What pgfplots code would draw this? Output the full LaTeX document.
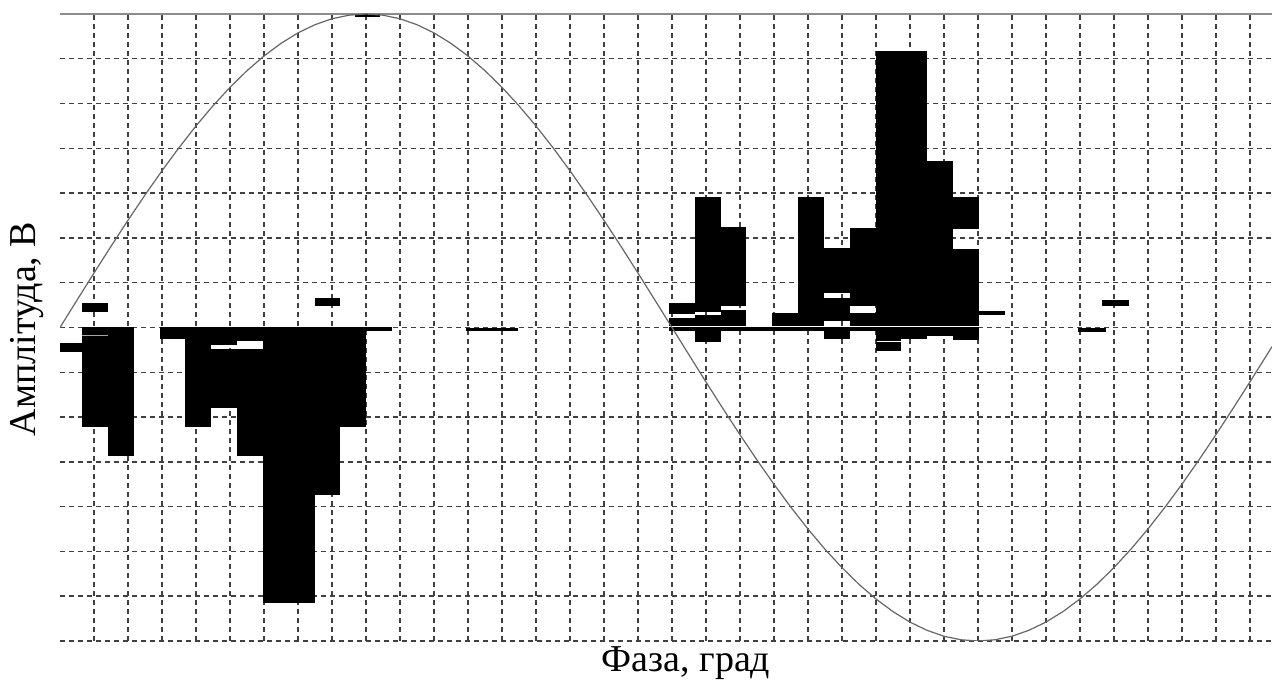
\documentclass[border=0pt]{standalone}
\usepackage{fontspec}
\setmainfont{Liberation Serif}
\usepackage{pgfplots}
\pgfplotsset{compat=1.18}
\usetikzlibrary{calc}
\tikzset{bk/.style={fill=black, draw=none}}

\begin{document}
\begin{tikzpicture}
\begin{axis}[
  width=606pt, height=313.5pt, scale only axis,
  xmin=0, xmax=356.5, ymin=-7, ymax=7,
  xtick={10,20,...,350}, ytick={-7,-6,...,7},
  xticklabels={}, yticklabels={},
  major tick length=0pt,
  grid=major,
  major grid style={black!75, line width=0.7pt, dash pattern=on 2.5pt off 2pt},
  axis line style={draw=none},
  xlabel={Фаза, град}, ylabel={Амплітуда, В},
  label style={font=\fontsize{19}{22}\selectfont},
  xlabel style={at={(axis description cs:0.5165,-0.0494)}, anchor=base},
  ylabel style={at={(axis description cs:-0.0205,0.4976)}, anchor=base},
]
\draw[black!45, line width=0.6pt] (rel axis cs:0,1) -- (rel axis cs:1,1);

% negative half-period group
\addplot[bk] coordinates {(0,-0.54) (6.5,-0.54) (6.5,-0.34) (0,-0.34)} -- cycle;
\addplot[bk] coordinates {(6.5,-2.23) (14.1,-2.23) (14.1,0) (6.5,0)} -- cycle;
\addplot[fill=black!35, draw=none] coordinates {(6.5,-0.2) (14.1,-0.2) (14.1,-0.17) (6.5,-0.17)} -- cycle;
\addplot[bk] coordinates {(14.1,-2.87) (21.7,-2.87) (21.7,0) (14.1,0)} -- cycle;
\addplot[bk] coordinates {(29.3,-0.25) (36.9,-0.25) (36.9,0) (29.3,0)} -- cycle;
\addplot[bk] coordinates {(36.9,-2.23) (44.5,-2.23) (44.5,0) (36.9,0)} -- cycle;
\addplot[bk] coordinates {(44.5,-0.38) (52.1,-0.38) (52.1,0) (44.5,0)} -- cycle;
\addplot[bk] coordinates {(44.5,-1.79) (52.1,-1.79) (52.1,-0.475) (44.5,-0.475)} -- cycle;
\addplot[bk] coordinates {(52.1,-0.306) (59.7,-0.306) (59.7,0) (52.1,0)} -- cycle;
\addplot[bk] coordinates {(52.1,-2.87) (59.7,-2.87) (59.7,-0.475) (52.1,-0.475)} -- cycle;
\addplot[bk] coordinates {(59.7,-6.16) (74.9,-6.16) (74.9,0) (59.7,0)} -- cycle;
\addplot[bk] coordinates {(74.9,-3.73) (82.5,-3.73) (82.5,0) (74.9,0)} -- cycle;
\addplot[bk] coordinates {(82.5,-2.23) (90.1,-2.23) (90.1,0) (82.5,0)} -- cycle;
\addplot[bk] coordinates {(90.1,-0.07) (97.7,-0.07) (97.7,0) (90.1,0)} -- cycle;
\addplot[bk] coordinates {(6.5,0.34) (14.1,0.34) (14.1,0.55) (6.5,0.55)} -- cycle;
\addplot[bk] coordinates {(74.9,0.49) (82.5,0.49) (82.5,0.66) (74.9,0.66)} -- cycle;
\addplot[bk] coordinates {(119.4,-0.08) (134.8,-0.08) (134.8,-0.01) (119.4,-0.01)} -- cycle;
\addplot[bk] coordinates {(86.8,6.94) (94,6.94) (94,7) (86.8,7)} -- cycle;

% positive half-period group
\addplot[bk] coordinates {(179.1,0.29) (186.7,0.29) (186.7,0.54) (179.1,0.54)} -- cycle;
\addplot[bk] coordinates {(179.1,0.04) (186.7,0.04) (186.7,0.22) (179.1,0.22)} -- cycle;
\addplot[bk] coordinates {(186.7,0.34) (194.3,0.34) (194.3,2.92) (186.7,2.92)} -- cycle;
\addplot[bk] coordinates {(186.7,0.04) (194.3,0.04) (194.3,0.27) (186.7,0.27)} -- cycle;
\addplot[bk] coordinates {(186.7,-0.33) (194.3,-0.33) (194.3,0) (186.7,0)} -- cycle;
\addplot[bk] coordinates {(194.3,0.49) (201.9,0.49) (201.9,2.24) (194.3,2.24)} -- cycle;
\addplot[bk] coordinates {(194.3,0.04) (201.9,0.04) (201.9,0.38) (194.3,0.38)} -- cycle;
\addplot[bk] coordinates {(209.5,0.04) (217.1,0.04) (217.1,0.33) (209.5,0.33)} -- cycle;
\addplot[bk] coordinates {(217.1,0.04) (224.7,0.04) (224.7,2.92) (217.1,2.92)} -- cycle;
\addplot[bk] coordinates {(224.7,0.77) (232.3,0.77) (232.3,1.78) (224.7,1.78)} -- cycle;
\addplot[bk] coordinates {(224.7,0.14) (232.3,0.14) (232.3,0.65) (224.7,0.65)} -- cycle;
\addplot[bk] coordinates {(224.7,-0.25) (232.3,-0.25) (232.3,0) (224.7,0)} -- cycle;
\addplot[bk] coordinates {(232.3,0.48) (239.9,0.48) (239.9,2.23) (232.3,2.23)} -- cycle;
\addplot[bk] coordinates {(232.3,0.04) (239.9,0.04) (239.9,0.33) (232.3,0.33)} -- cycle;
\addplot[bk] coordinates {(239.9,0.04) (255.1,0.04) (255.1,6.17) (239.9,6.17)} -- cycle;
\addplot[bk] coordinates {(239.9,-0.30) (247.5,-0.30) (247.5,0) (239.9,0)} -- cycle;
\addplot[bk] coordinates {(239.9,-0.53) (247.5,-0.53) (247.5,-0.33) (239.9,-0.33)} -- cycle;
\addplot[bk] coordinates {(247.5,-0.25) (255.1,-0.25) (255.1,0) (247.5,0)} -- cycle;
\addplot[bk] coordinates {(255.1,0.04) (262.7,0.04) (262.7,3.71) (255.1,3.71)} -- cycle;
\addplot[bk] coordinates {(255.1,-0.18) (262.7,-0.18) (262.7,0) (255.1,0)} -- cycle;
\addplot[bk] coordinates {(262.7,2.19) (270.3,2.19) (270.3,2.92) (262.7,2.92)} -- cycle;
\addplot[bk] coordinates {(262.7,0.04) (270.3,0.04) (270.3,1.76) (262.7,1.76)} -- cycle;
\addplot[bk] coordinates {(262.7,-0.27) (270.3,-0.27) (270.3,0) (262.7,0)} -- cycle;
\addplot[bk] coordinates {(270.3,0.27) (277.9,0.27) (277.9,0.36) (270.3,0.36)} -- cycle;
\addplot[bk] coordinates {(179.1,-0.07) (270.3,-0.07) (270.3,0) (179.1,0)} -- cycle;
\addplot[bk] coordinates {(306.4,0.48) (314.3,0.48) (314.3,0.62) (306.4,0.62)} -- cycle;
\addplot[bk] coordinates {(299.4,-0.09) (307.6,-0.09) (307.6,-0.02) (299.4,-0.02)} -- cycle;

% supply voltage
\addplot[black!60, line width=0.6pt] coordinates {
  (0,0) (5,0.610) (10,1.216) (15,1.812) (20,2.394) (25,2.958) (30,3.5)
  (35,4.015) (40,4.5) (45,4.95) (50,5.362) (55,5.734) (60,6.062) (65,6.344)
  (70,6.578) (75,6.761) (80,6.894) (85,6.973) (90,7) (95,6.973) (100,6.894)
  (105,6.761) (110,6.578) (115,6.344) (120,6.062) (125,5.734) (130,5.362)
  (135,4.95) (140,4.5) (145,4.015) (150,3.5) (155,2.958) (160,2.394)
  (165,1.812) (170,1.216) (175,0.610) (180,0) (185,-0.610) (190,-1.216)
  (195,-1.812) (200,-2.394) (205,-2.958) (210,-3.5) (215,-4.015) (220,-4.5)
  (225,-4.95) (230,-5.362) (235,-5.734) (240,-6.062) (245,-6.344) (250,-6.578)
  (255,-6.761) (260,-6.894) (265,-6.973) (270,-7) (275,-6.973) (280,-6.894)
  (285,-6.761) (290,-6.578) (295,-6.344) (300,-6.062) (305,-5.734) (310,-5.362)
  (315,-4.95) (320,-4.5) (325,-4.015) (330,-3.5) (335,-2.958) (340,-2.394)
  (345,-1.812) (350,-1.216) (355,-0.610) (356.5,-0.427)
};
\end{axis}
\pgfresetboundingbox
\path ($(current axis.south west)+(-30pt,-19.5pt)$) rectangle ($(current axis.north east)+(0pt,7pt)$);
\end{tikzpicture}
\end{document}
